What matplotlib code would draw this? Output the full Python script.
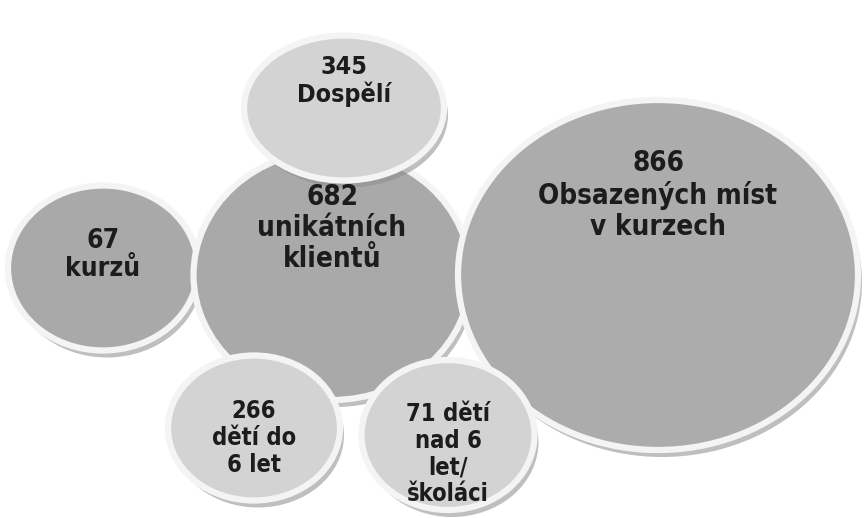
import matplotlib.pyplot as plt
from matplotlib.patches import Ellipse
from matplotlib import font_manager

# Values and labels of the bubbles
values = ["345", "682", "67", "866", "266", "71 dětí"]
labels = ["Dospělí", "unikátních\nklientů", "kurzů",
          "Obsazených míst\nv kurzech", "dětí do\n6 let", "nad 6\nlet/\nškoláci"]

# Layout (pixel coordinates of the 865x518 picture, y down)
centers = [(344, 108), (332, 275), (103, 268), (658, 275), (254, 428), (448, 435)]
sizes = [(200, 145), (277, 250), (190, 165), (400, 350), (172, 145), (173, 150)]
text_y = [81, 228, 255, 195, 438, 454]
fills = ["#d3d3d3", "#a9a9a9", "#a9a9a9", "#acacac", "#d3d3d3", "#d3d3d3"]
fontsizes = [18, 20, 19, 20, 17, 17]
# drawing order (back to front)
order = [2, 1, 0, 3, 4, 5]

names = {f.name for f in font_manager.fontManager.ttflist}
family = "Liberation Sans Narrow" if "Liberation Sans Narrow" in names else "DejaVu Sans"

fig = plt.figure(figsize=(8.65, 5.18), dpi=100)
ax = fig.add_axes([0, 0, 1, 1])
ax.set_xlim(0, 865)
ax.set_ylim(518, 0)
ax.axis("off")

for i in order:
    (cx, cy), (w, h) = centers[i], sizes[i]
    shadow = Ellipse((cx + 4, cy + 7), w, h, facecolor="#8c8c8c", edgecolor="none", alpha=0.55)
    ax.add_patch(shadow)
    ell = Ellipse((cx, cy), w, h, facecolor=fills[i], edgecolor="#f4f4f4", linewidth=4.5)
    ax.add_patch(ell)
    ax.text(cx, text_y[i], values[i] + "\n" + labels[i], ha="center", va="center",
            fontsize=fontsizes[i], fontweight="bold", fontstretch="condensed",
            color="#1c1c1c", family=family, linespacing=1.15)

fig.savefig("out.png", dpi=100, facecolor="white")
